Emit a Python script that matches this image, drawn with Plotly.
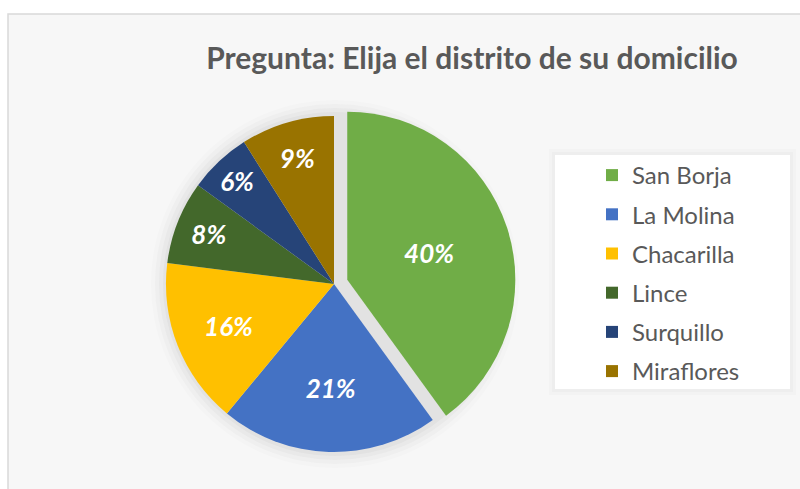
import plotly.graph_objects as go

# ---- data ----
labels = ["San Borja", "La Molina", "Chacarilla", "Lince", "Surquillo", "Miraflores"]
values = [40, 21, 16, 8, 6, 9]
colors = ["#70AD47", "#4472C4", "#FFC000", "#43682B", "#264478", "#997300"]
pulls = [0.083, 0, 0, 0, 0, 0]
title_text = "Pregunta: Elija el distrito de su domicilio"

W, H = 800, 489

def px(x):
    return x / W

def py(y):
    return 1 - y / H

fig = go.Figure()

# pie domain (pixels)
dom_l, dom_r, dom_t, dom_b = 152, 516, 102, 466

fig.add_trace(go.Pie(
    labels=labels,
    values=values,
    marker=dict(colors=colors, line=dict(width=0)),
    pull=pulls,
    sort=False,
    direction="clockwise",
    rotation=0,
    texttemplate="%{percent:.0%}",
    textposition="inside",
    insidetextorientation="horizontal",
    textfont=dict(family="Lato", size=26, color="white", weight="bold", style="italic"),
    showlegend=False,
    hoverinfo="label+percent",
    domain=dict(x=[px(dom_l), px(dom_r)], y=[py(dom_b), py(dom_t)]),
))

# legend entries (one per category, derived from the same lists)
for lab, col in zip(labels, colors):
    fig.add_trace(go.Scatter(
        x=[None], y=[None], mode="markers", name=lab, legendgroup=lab,
        marker=dict(symbol="square", size=16, color=col, line=dict(width=0)),
        showlegend=True,
    ))

shapes = []
# chart area with light border
shapes.append(dict(type="rect", xref="paper", yref="paper",
                   x0=px(8), x1=px(820), y0=py(510), y1=py(14),
                   fillcolor="#F7F7F7", line=dict(color="#D9D9D9", width=1.5), layer="below"))
# soft shadow halo around the pie
cx, cy, r = 335, 284, 168
for d, op in [(16, 0.025), (12, 0.035), (8, 0.045), (4, 0.06)]:
    shapes.append(dict(type="circle", xref="paper", yref="paper",
                       x0=px(cx - r - d), x1=px(cx + r + d), y0=py(cy + r + d), y1=py(cy - r - d),
                       fillcolor="rgba(120,120,120,%s)" % op, line=dict(width=0), layer="below"))
# legend halo + white box
for d, op in [(6, 0.03), (3, 0.04)]:
    shapes.append(dict(type="rect", xref="paper", yref="paper",
                       x0=px(555 - d), x1=px(790 + d), y0=py(389 + d), y1=py(155 - d),
                       fillcolor="rgba(120,120,120,%s)" % op, line=dict(width=0), layer="below"))
shapes.append(dict(type="rect", xref="paper", yref="paper",
                   x0=px(555), x1=px(790), y0=py(389), y1=py(155),
                   fillcolor="white", line=dict(width=0), layer="below"))

fig.update_layout(
    width=W, height=H,
    margin=dict(l=0, r=0, t=0, b=0, autoexpand=False),
    paper_bgcolor="white",
    plot_bgcolor="rgba(0,0,0,0)",
    xaxis=dict(visible=False),
    yaxis=dict(visible=False),
    shapes=shapes,
    title=dict(text=title_text, x=px(472), xanchor="center", y=py(58), yanchor="middle",
               font=dict(family="Lato", size=30, color="#595959", weight="bold")),
    legend=dict(x=px(592), xanchor="left", y=py(153), yanchor="top",
                bgcolor="rgba(0,0,0,0)", borderwidth=0,
                font=dict(family="Lato", size=24, color="#595959"),
                tracegroupgap=5, itemsizing="constant"),
)

fig.write_html("out.html", config={"displayModeBar": False},
               post_script="document.body.style.margin='0px';")
